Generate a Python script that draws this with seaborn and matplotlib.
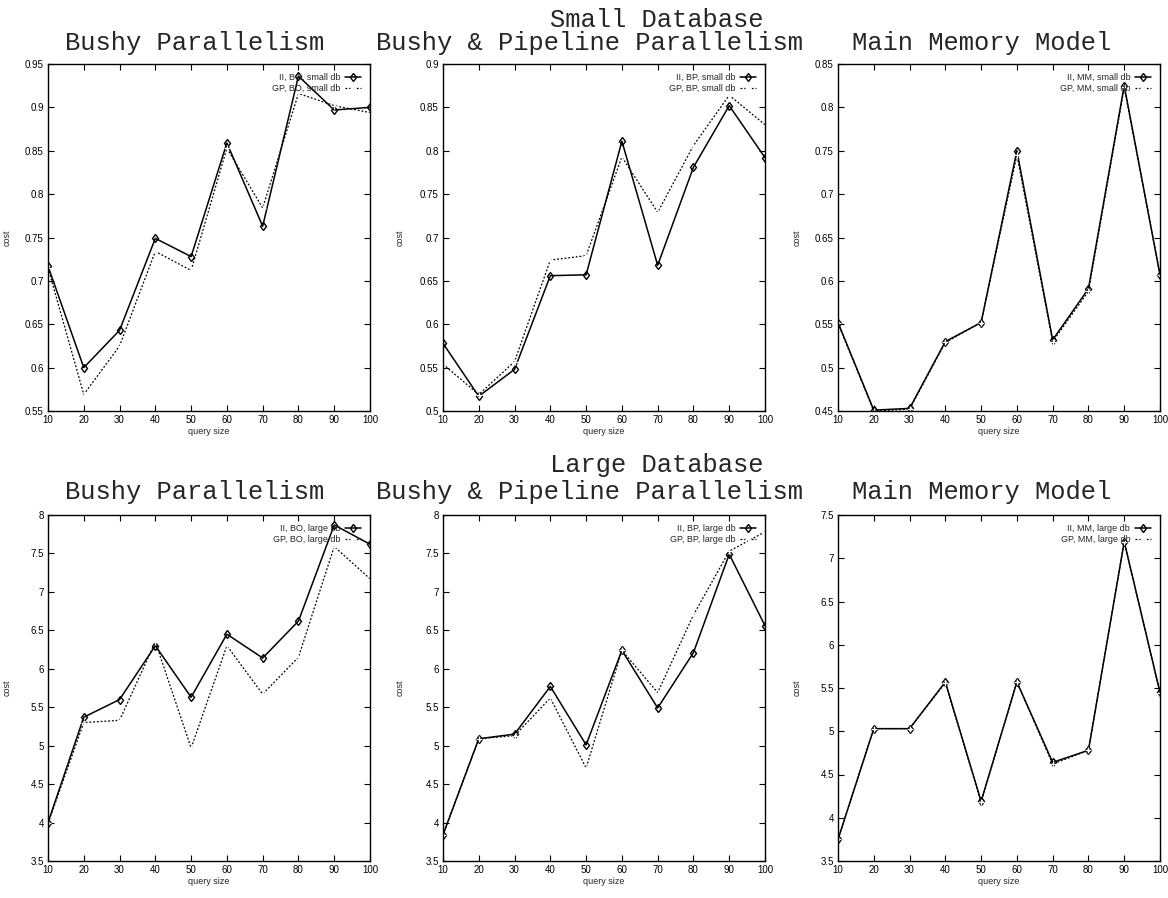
import matplotlib
matplotlib.use("Agg")
import matplotlib.pyplot as plt
import seaborn as sns
import pandas as pd

sns.set_theme(style="ticks")
plt.rcParams['font.family'] = ['Liberation Sans Narrow', 'Liberation Sans', 'DejaVu Sans']

query_size = [10, 20, 30, 40, 50, 60, 70, 80, 90, 100]

# Small database
ii_bo_small = [0.717, 0.600, 0.643, 0.749, 0.728, 0.859, 0.763, 0.936, 0.897, 0.900]
gp_bo_small = [0.715, 0.569, 0.625, 0.734, 0.712, 0.853, 0.784, 0.916, 0.902, 0.894]
ii_bp_small = [0.578, 0.517, 0.548, 0.656, 0.657, 0.811, 0.668, 0.781, 0.852, 0.792]
gp_bp_small = [0.554, 0.519, 0.557, 0.674, 0.679, 0.793, 0.729, 0.806, 0.864, 0.830]
ii_mm_small = [0.552, 0.451, 0.453, 0.530, 0.552, 0.750, 0.532, 0.591, 0.825, 0.607]
gp_mm_small = [0.551, 0.450, 0.452, 0.529, 0.552, 0.745, 0.530, 0.588, 0.823, 0.607]

# Large database
ii_bo_large = [4.00, 5.37, 5.60, 6.30, 5.63, 6.45, 6.14, 6.62, 7.87, 7.62]
gp_bo_large = [3.99, 5.30, 5.33, 6.35, 4.97, 6.30, 5.67, 6.15, 7.59, 7.17]
ii_bp_large = [3.84, 5.09, 5.15, 5.77, 5.01, 6.24, 5.49, 6.21, 7.49, 6.56]
gp_bp_large = [3.84, 5.09, 5.13, 5.62, 4.71, 6.24, 5.69, 6.70, 7.53, 7.78]
ii_mm_large = [3.75, 5.03, 5.03, 5.57, 4.19, 5.57, 4.64, 4.78, 7.19, 5.45]
gp_mm_large = [3.75, 5.03, 5.03, 5.56, 4.18, 5.57, 4.62, 4.78, 7.19, 5.44]

panel_titles = ["Bushy Parallelism", "Bushy & Pipeline Parallelism", "Main Memory Model"]
row_titles = ["Small Database", "Large Database"]
codes = ["BO", "BP", "MM"]
db_names = ["small db", "large db"]

series = [
    [(ii_bo_small, gp_bo_small), (ii_bp_small, gp_bp_small), (ii_mm_small, gp_mm_small)],
    [(ii_bo_large, gp_bo_large), (ii_bp_large, gp_bp_large), (ii_mm_large, gp_mm_large)],
]
ylims = [[(0.55, 0.95), (0.5, 0.9), (0.45, 0.85)],
         [(3.5, 8.0), (3.5, 8.0), (3.5, 7.5)]]
yticks = [[[0.55, 0.6, 0.65, 0.7, 0.75, 0.8, 0.85, 0.9, 0.95],
           [0.5, 0.55, 0.6, 0.65, 0.7, 0.75, 0.8, 0.85, 0.9],
           [0.45, 0.5, 0.55, 0.6, 0.65, 0.7, 0.75, 0.8, 0.85]],
          [[3.5, 4, 4.5, 5, 5.5, 6, 6.5, 7, 7.5, 8],
           [3.5, 4, 4.5, 5, 5.5, 6, 6.5, 7, 7.5, 8],
           [3.5, 4, 4.5, 5, 5.5, 6, 6.5, 7, 7.5]]]

W, H = 1168, 898
fig = plt.figure(figsize=(W / 100, H / 100), dpi=100)

lefts = [48, 443, 838]
axw = 322
row_boxes = [(64, 411), (515, 861)]
title_y = [43, 492]
row_title_y = [20, 465]
title_x = [195, 590, 982]
ylabel_off = [36, 38, 36]

for r in range(2):
    top, bot = row_boxes[r]
    for c in range(3):
        ax = fig.add_axes([lefts[c] / W, 1 - bot / H, axw / W, (bot - top) / H])
        ii, gp = series[r][c]
        df = pd.DataFrame({"query size": query_size, "II": ii, "GP": gp})
        sns.lineplot(data=df, x="query size", y="II", ax=ax, color="black",
                     linewidth=1.1, marker="d", markersize=4.5, markerfacecolor="none",
                     markeredgecolor="black", markeredgewidth=1.0,
                     label=f"II, {codes[c]}, {db_names[r]}")
        sns.lineplot(data=df, x="query size", y="GP", ax=ax, color="black",
                     linewidth=0.9, linestyle=(0, (1.5, 1.5)), marker="+", markersize=5,
                     markeredgewidth=0.9,
                     label=f"GP, {codes[c]}, {db_names[r]}")
        ax.set_xlim(10, 100)
        ax.set_ylim(*ylims[r][c])
        ax.set_xticks(query_size)
        ax.set_xticklabels([str(q) for q in query_size])
        ax.set_yticks(yticks[r][c])
        ax.set_yticklabels(['%g' % v for v in yticks[r][c]])
        ax.tick_params(direction="in", length=4, width=0.8, labelsize=7,
                       top=True, right=True, colors="black", pad=3)
        for sp in ax.spines.values():
            sp.set_visible(True)
            sp.set_linewidth(1.0)
            sp.set_color("black")
        ax.set_xlabel("query size", fontsize=6.5, labelpad=1)
        ax.set_ylabel("cost", fontsize=6.5)
        ax.yaxis.set_label_coords(-ylabel_off[c] / axw, 0.5)
        ax.legend(loc="upper right", frameon=False, markerfirst=False,
                  fontsize=6.5, handlelength=1.8, handletextpad=0.5,
                  labelspacing=0.25, borderaxespad=0.6)
        fig.text(title_x[c] / W, 1 - title_y[r] / H, panel_titles[c],
                 family=["Liberation Mono", "DejaVu Sans Mono"], fontsize=18.4,
                 ha="center", va="center")
    fig.text(657 / W, 1 - row_title_y[r] / H, row_titles[r],
             family=["Liberation Mono", "DejaVu Sans Mono"], fontsize=18.4,
             ha="center", va="center")

fig.savefig("out.png", dpi=100, facecolor="white")
